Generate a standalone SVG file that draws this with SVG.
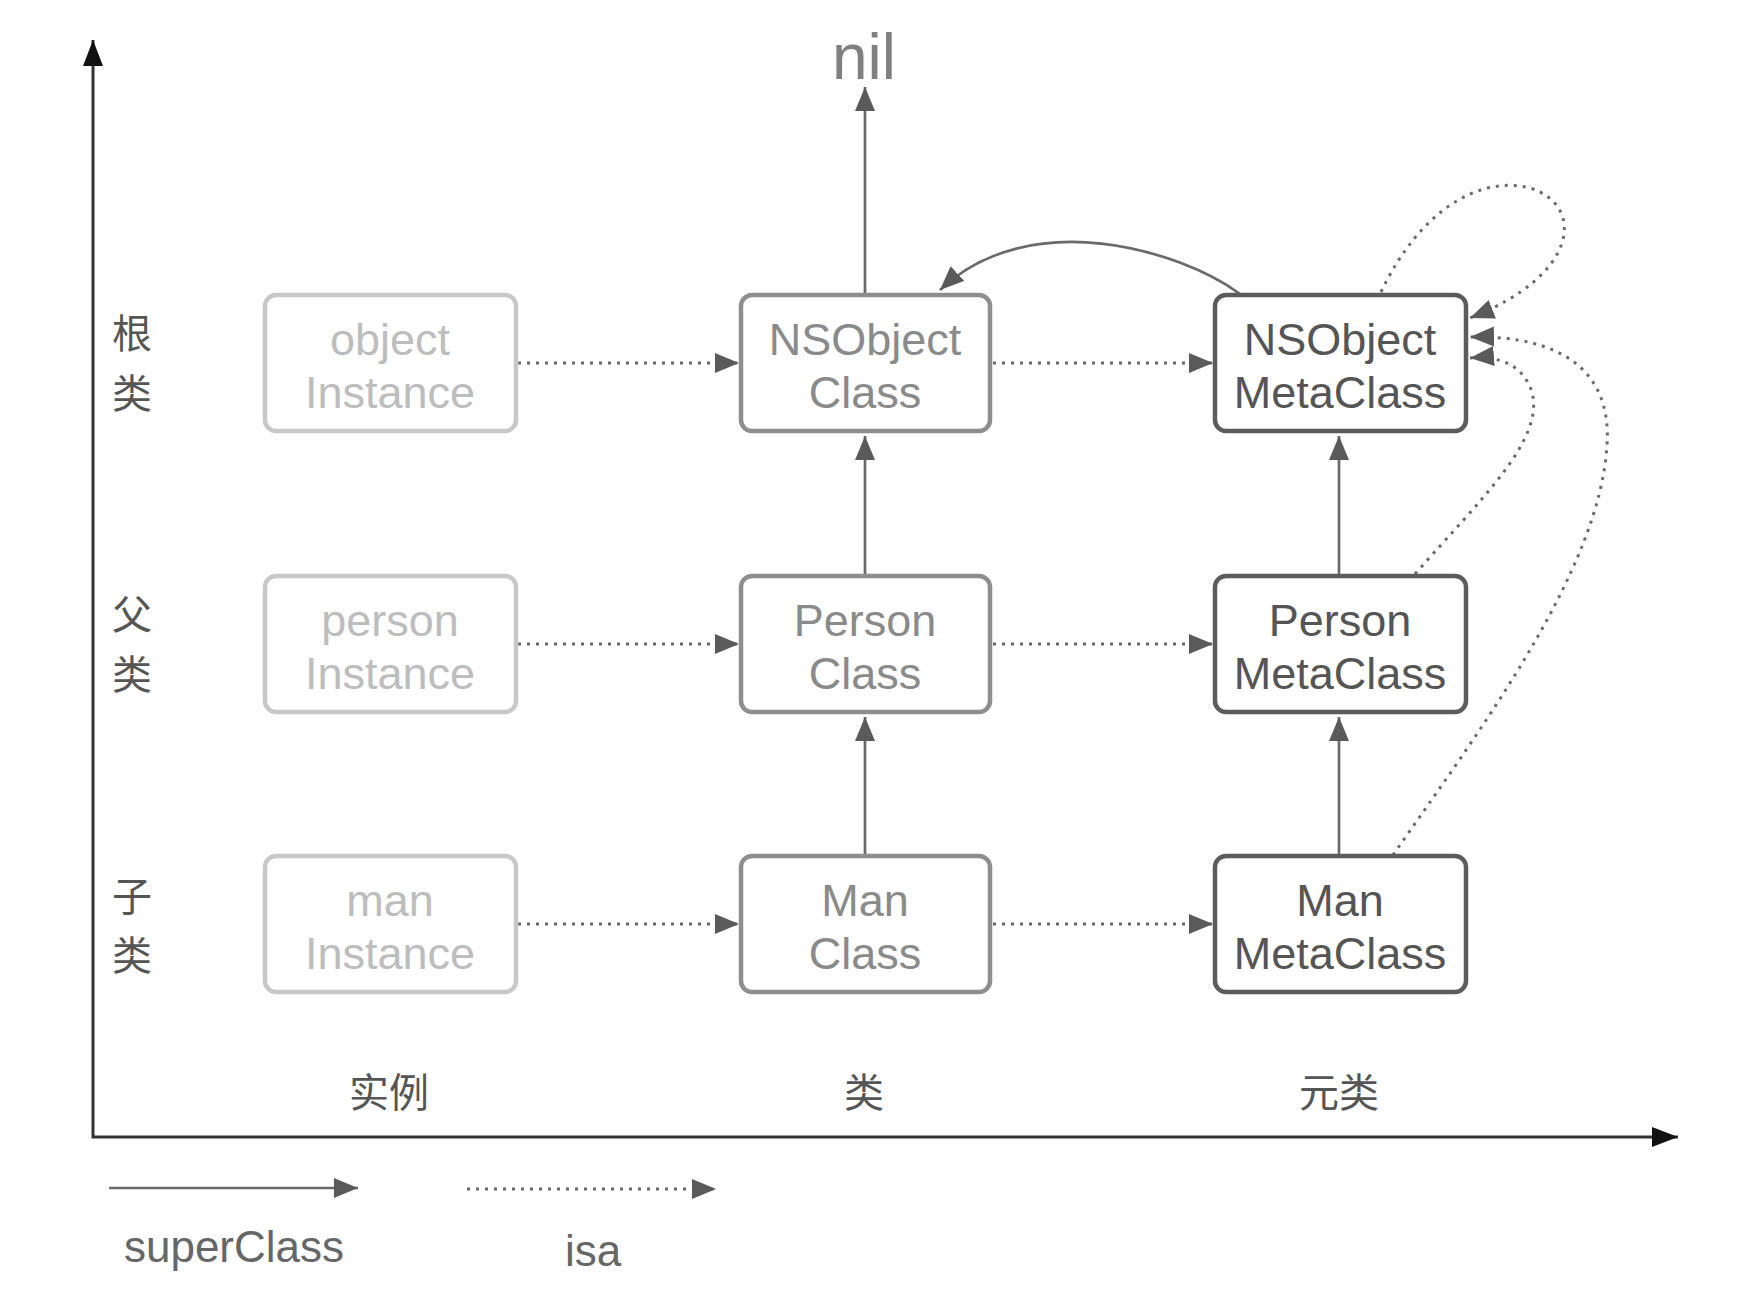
<svg xmlns="http://www.w3.org/2000/svg" width="1764" height="1296" viewBox="0 0 1764 1296">
<defs>
<style>
text{font-family:"Liberation Sans","Noto Sans CJK SC",sans-serif;text-anchor:middle}
.box{fill:#fff;stroke-width:4.5}
.c1 rect{stroke:#c8c8c8}.c1 text{fill:#bdbdbd}
.c2 rect{stroke:#8e8e8e}.c2 text{fill:#8a8a8a}
.c3 rect{stroke:#5c5c5c}.c3 text{fill:#555}
.nt{font-size:45px}
.lbl{font-size:40px;fill:#555}
.sup{fill:none;stroke:#6a6a6a;stroke-width:2.7}
.isa{fill:none;stroke:#6a6a6a;stroke-width:3;stroke-dasharray:3 6}
.axis{fill:none;stroke:#333;stroke-width:3}
</style>
<marker id="ah" markerUnits="userSpaceOnUse" markerWidth="26" markerHeight="22" refX="24" refY="10" orient="auto"><path d="M0,0 L24,10 L0,20 z" fill="#5a5a5a"/></marker>
<marker id="ax" markerUnits="userSpaceOnUse" markerWidth="28" markerHeight="22" refX="26" refY="10" orient="auto"><path d="M0,0 L26,10 L0,20 z" fill="#111"/></marker>
</defs>
<rect width="1764" height="1296" fill="#fff"/>

<g id="axes">
<line class="axis" x1="93" y1="1138" x2="93" y2="40" marker-end="url(#ax)"/>
<line class="axis" x1="92" y1="1137" x2="1678" y2="1137" marker-end="url(#ax)"/>
</g>

<g id="row-labels">
<text class="lbl" x="132" y="348">根</text>
<text class="lbl" x="132" y="408">类</text>
<text class="lbl" x="132" y="629">父</text>
<text class="lbl" x="132" y="689">类</text>
<text class="lbl" x="132" y="911">子</text>
<text class="lbl" x="132" y="970">类</text>
</g>
<g id="col-labels">
<text class="lbl" x="389" y="1107">实例</text>
<text class="lbl" x="864" y="1107">类</text>
<text class="lbl" x="1339" y="1107">元类</text>
</g>

<text id="nil" x="864" y="79" font-size="64" fill="#808080">nil</text>

<g id="connectors">
<line class="sup" x1="865" y1="295" x2="865" y2="87" marker-end="url(#ah)"/>
<line class="sup" x1="865" y1="576" x2="865" y2="436" marker-end="url(#ah)"/>
<line class="sup" x1="865" y1="856" x2="865" y2="717" marker-end="url(#ah)"/>
<line class="sup" x1="1339" y1="576" x2="1339" y2="436" marker-end="url(#ah)"/>
<line class="sup" x1="1339" y1="856" x2="1339" y2="717" marker-end="url(#ah)"/>
<path class="sup" d="M1240,294 C1180,250 1030,205 940,290" marker-end="url(#ah)"/>
<line class="isa" x1="518" y1="363" x2="739" y2="363" marker-end="url(#ah)"/>
<line class="isa" x1="993" y1="363" x2="1213" y2="363" marker-end="url(#ah)"/>
<line class="isa" x1="518" y1="644" x2="739" y2="644" marker-end="url(#ah)"/>
<line class="isa" x1="993" y1="644" x2="1213" y2="644" marker-end="url(#ah)"/>
<line class="isa" x1="518" y1="924" x2="739" y2="924" marker-end="url(#ah)"/>
<line class="isa" x1="993" y1="924" x2="1213" y2="924" marker-end="url(#ah)"/>
<path class="isa" stroke-width="2.5" d="M1381,292 C1420,210 1480,175 1530,188 C1585,205 1580,275 1470,318" marker-end="url(#ah)"/>
<path class="isa" stroke-width="2.5" d="M1393,855 C1480,730 1600,570 1607,445 C1612,370 1560,335 1470,337" marker-end="url(#ah)"/>
<path class="isa" stroke-width="2.5" d="M1415,574 C1480,500 1545,440 1532,392 C1522,362 1495,356 1470,358" marker-end="url(#ah)"/>
</g>

<g id="object-instance" class="c1"><rect class="box" x="265" y="295" width="251" height="136" rx="11"/><text class="nt" x="390" y="355">object</text><text class="nt" x="390" y="408">Instance</text></g>
<g id="nsobject-class" class="c2"><rect class="box" x="741" y="295" width="249" height="136" rx="11"/><text class="nt" x="865" y="355">NSObject</text><text class="nt" x="865" y="408">Class</text></g>
<g id="nsobject-metaclass" class="c3"><rect class="box" x="1215" y="295" width="251" height="136" rx="11"/><text class="nt" x="1340" y="355">NSObject</text><text class="nt" x="1340" y="408">MetaClass</text></g>

<g id="person-instance" class="c1"><rect class="box" x="265" y="576" width="251" height="136" rx="11"/><text class="nt" x="390" y="636">person</text><text class="nt" x="390" y="689">Instance</text></g>
<g id="person-class" class="c2"><rect class="box" x="741" y="576" width="249" height="136" rx="11"/><text class="nt" x="865" y="636">Person</text><text class="nt" x="865" y="689">Class</text></g>
<g id="person-metaclass" class="c3"><rect class="box" x="1215" y="576" width="251" height="136" rx="11"/><text class="nt" x="1340" y="636">Person</text><text class="nt" x="1340" y="689">MetaClass</text></g>

<g id="man-instance" class="c1"><rect class="box" x="265" y="856" width="251" height="136" rx="11"/><text class="nt" x="390" y="916">man</text><text class="nt" x="390" y="969">Instance</text></g>
<g id="man-class" class="c2"><rect class="box" x="741" y="856" width="249" height="136" rx="11"/><text class="nt" x="865" y="916">Man</text><text class="nt" x="865" y="969">Class</text></g>
<g id="man-metaclass" class="c3"><rect class="box" x="1215" y="856" width="251" height="136" rx="11"/><text class="nt" x="1340" y="916">Man</text><text class="nt" x="1340" y="969">MetaClass</text></g>

<g id="legend">
<line class="sup" x1="109" y1="1188" x2="358" y2="1188" marker-end="url(#ah)"/>
<text x="234" y="1262" font-size="44" fill="#666">superClass</text>
<line class="isa" x1="467" y1="1189" x2="716" y2="1189" marker-end="url(#ah)"/>
<text x="593" y="1266" font-size="44" fill="#666">isa</text>
</g>
</svg>
